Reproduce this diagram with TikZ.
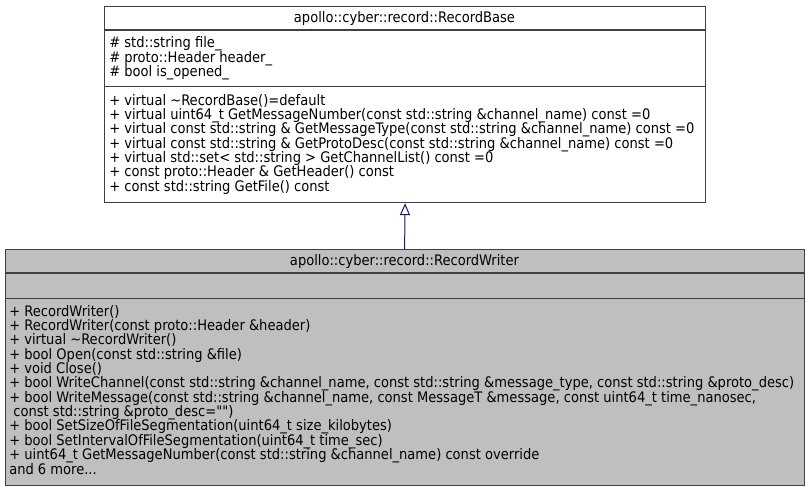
\documentclass[tikz,border=0pt]{standalone}
\usepackage{fontspec}
\setmainfont{DejaVu Sans Condensed}[Ligatures=TeXOff]
\usetikzlibrary{arrows.meta}
\definecolor{edgeblue}{HTML}{191970}
\definecolor{boxgrey}{HTML}{BFBFBF}
\definecolor{boxline}{HTML}{404040}
\begin{document}
\begin{tikzpicture}[x=0.75pt,y=-0.75pt,
  umlbox/.style={draw=boxline, line width=0.9pt, inner sep=0pt, anchor=north west},
  sep/.style={draw=boxline, line width=0.9pt},
  txt/.style={anchor=base west, inner sep=0pt, font=\fontsize{10.9}{12}\selectfont},
  ttl/.style={anchor=base, inner sep=0pt, font=\fontsize{10.9}{12}\selectfont},
  inherit/.style={draw=edgeblue, line width=0.75pt, -{Triangle[open, length=9pt, width=7.5pt]}}]
\useasboundingbox (0,0) rectangle (809,492);
\fill[white] (0,0) rectangle (809,492);
% base class
\node[umlbox, fill=white, minimum width=450.75pt, minimum height=147pt] (base) at (104,6) {};
\draw[sep] (104,30) -- (705,30);
\draw[sep] (104,86.5) -- (705,86.5);
\node[ttl] (bt) at (404.5,22.5) {apollo::cyber::record::RecordBase};
\node[txt] (a1) at (109,48) {\# std::string file\_};
\node[txt] (a2) at (109,62.4) {\# proto::Header header\_};
\node[txt] (a3) at (109,76.7) {\# bool is\_opened\_};
\node[txt] (m1) at (109,105) {+ virtual \textasciitilde RecordBase()=default};
\node[txt] (m2) at (109,119.4) {+ virtual uint64\_t GetMessageNumber(const std::string \&channel\_name) const =0};
\node[txt] (m3) at (109,133.7) {+ virtual const std::string \& GetMessageType(const std::string \&channel\_name) const =0};
\node[txt] (m4) at (109,148.1) {+ virtual const std::string \& GetProtoDesc(const std::string \&channel\_name) const =0};
\node[txt] (m5) at (109,162.4) {+ virtual std::set< std::string > GetChannelList() const =0};
\node[txt] (m6) at (109,176.8) {+ const proto::Header \& GetHeader() const};
\node[txt] (m7) at (109,191.2) {+ const std::string GetFile() const};
% derived class
\node[umlbox, fill=boxgrey, minimum width=599.25pt, minimum height=177pt] (writer) at (4.5,249) {};
\draw[sep] (4.5,273) -- (804,273);
\draw[sep] (4.5,298.5) -- (804,298.5);
\node[ttl] (wt) at (404.5,265.5) {apollo::cyber::record::RecordWriter};
\node[txt] (w1) at (9,316) {+ RecordWriter()};
\node[txt] (w2) at (9,330.4) {+ RecordWriter(const proto::Header \&header)};
\node[txt] (w3) at (9,344.7) {+ virtual \textasciitilde RecordWriter()};
\node[txt] (w4) at (9,359.1) {+ bool Open(const std::string \&file)};
\node[txt] (w5) at (9,373.4) {+ void Close()};
\node[txt] (w6) at (9,387.8) {+ bool WriteChannel(const std::string \&channel\_name, const std::string \&message\_type, const std::string \&proto\_desc)};
\node[txt] (w7) at (9,402.2) {+ bool WriteMessage(const std::string \&channel\_name, const MessageT \&message, const uint64\_t time\_nanosec,};
\node[txt] (w8) at (9,416.5) {\ const std::string \&proto\_desc=\symbol{34}\symbol{34})};
\node[txt] (w9) at (9,430.9) {+ bool SetSizeOfFileSegmentation(uint64\_t size\_kilobytes)};
\node[txt] (w10) at (9,445.2) {+ bool SetIntervalOfFileSegmentation(uint64\_t time\_sec)};
\node[txt] (w11) at (9,459.6) {+ uint64\_t GetMessageNumber(const std::string \&channel\_name) const override};
\node[txt] (w12) at (9,474) {and 6 more...};
% inheritance
\draw[inherit] (writer.north) -- (base.south);
\end{tikzpicture}
\end{document}
